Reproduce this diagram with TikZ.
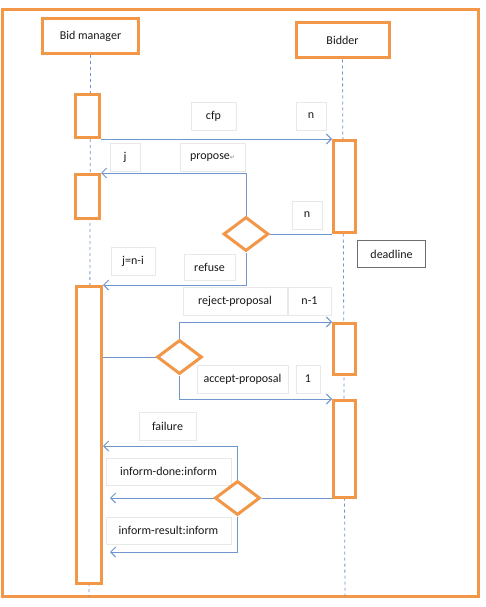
\documentclass[tikz,border=0pt]{standalone}
\usepackage{fontspec}
\setmainfont{Carlito}
\newfontfamily\dejavu{DejaVu Sans}
\usetikzlibrary{shapes.geometric,arrows.meta}
\definecolor{orng}{RGB}{242,150,72}
\definecolor{msgblue}{RGB}{112,150,205}
\definecolor{lblgray}{RGB}{232,232,232}
\definecolor{dlgray}{RGB}{110,110,110}
\tikzset{
  txt/.style={font=\fontsize{12}{14}\selectfont, text=black!90},
  obox/.style={draw=orng, line width=3pt, fill=white, inner sep=0pt, txt},
  actbox/.style={draw=orng, line width=3pt, fill=white, inner sep=0pt},
  dia/.style={diamond, draw=orng, line width=3pt, fill=white, inner sep=0pt, minimum width=45pt, minimum height=34pt, aspect=1.3},
  msg/.style={draw=msgblue, line width=1pt, -{Straight Barb[length=5pt,width=10pt,line width=1pt]}},
  plain/.style={draw=msgblue, line width=1pt},
  life/.style={draw=msgblue, line width=0.8pt, dash pattern=on 3pt off 3pt},
  lbl/.style={draw=lblgray, line width=0.6pt, fill=white, inner sep=0pt, txt},
}
\begin{document}
\begin{tikzpicture}[x=1pt,y=-1pt]
\useasboundingbox (0,0) rectangle (485,607);
\fill[white] (0,0) rectangle (485,607);
% frame
\draw[draw=orng, line width=3pt] (2,10) rectangle (478,596);
% headers
\node[obox, minimum width=96pt, minimum height=35pt] (mgr) at (90.5,36) {Bid manager};
\node[obox, minimum width=93pt, minimum height=35pt] (bdr) at (342.5,40.5) {Bidder};
% lifelines
\coordinate (mgrEnd) at (89,597);
\coordinate (bdrEnd) at (345,597);
\draw[life] (mgr.south) -- (mgrEnd);
\draw[life] (bdr.south) -- (bdrEnd);
% activations
\node[actbox, minimum width=24pt, minimum height=43pt] (ma1) at (87.5,116) {};
\node[actbox, minimum width=24pt, minimum height=44pt] (ma2) at (87.5,196.5) {};
\node[actbox, minimum width=25pt, minimum height=297pt] (ma3) at (89,435) {};
\node[actbox, minimum width=22pt, minimum height=92pt] (ba1) at (344.5,186.5) {};
\node[actbox, minimum width=22pt, minimum height=51pt] (ba2) at (344.5,349) {};
\node[actbox, minimum width=22pt, minimum height=97pt] (ba3) at (344.5,449) {};
% deadline
\node[draw=dlgray, line width=1.4pt, fill=white, minimum width=68pt, minimum height=27pt, inner sep=0pt, txt] (dl) at (391.5,254) {deadline};
% labels
\node[lbl, minimum width=45pt, minimum height=28pt] (lcfp) at (213.5,116) {cfp};
\node[lbl, minimum width=30pt, minimum height=28pt] (ln1) at (311,116) {n};
\node[lbl, minimum width=30pt, minimum height=28pt] (lj) at (125,157.5) {j};
\node[lbl, minimum width=65pt, minimum height=28pt] (lprop) at (212.5,157.5) {propose{\dejavu\fontsize{6}{7}\selectfont\color{gray}↵}};
\node[lbl, minimum width=30pt, minimum height=28pt] (ln2) at (307,215) {n};
\node[lbl, minimum width=44pt, minimum height=28pt] (ljni) at (133,261) {j=n-i};
\node[lbl, minimum width=51pt, minimum height=26pt] (lref) at (209.5,267) {refuse};
\node[lbl, minimum width=104pt, minimum height=28pt] (lrej) at (235,301) {reject-proposal};
\node[lbl, minimum width=43pt, minimum height=28pt] (lnm1) at (309.5,301) {n-1};
\node[lbl, minimum width=91pt, minimum height=28pt] (lacc) at (242.5,379) {accept-proposal};
\node[lbl, minimum width=24pt, minimum height=28pt] (lone) at (308,379) {1};
\node[lbl, minimum width=57pt, minimum height=28pt] (lfail) at (167.5,426) {failure};
\node[lbl, minimum width=125pt, minimum height=27pt] (ldone) at (168.5,471.5) {inform-done:inform};
\node[lbl, minimum width=125pt, minimum height=27pt] (lres) at (168.5,530.5) {inform-result:inform};
% diamonds
\node[dia] (d1) at (246,234) {};
\node[dia] (d2) at (179.5,357) {};
\node[dia] (d3) at (237.5,498) {};
% free ends
\coordinate (fy) at (0,446);
\coordinate (doneEnd) at (110,498);
\coordinate (resEnd) at (110,552);
% messages
\draw[msg] (ma1.south east) -- (ma1.south east -| ba1.west);
\draw[msg] (d1.north) |- (ma2.north east);
\draw[plain] (d1.east) -- (d1.east -| ba1.west);
\draw[msg] (d1.south) |- (ma3.north east);
\draw[plain] (d2.west) -- (d2.west -| ma3.east);
\draw[msg] (d2.north) |- (ba2.north west);
\draw[msg] (d2.south) |- (ba3.north west);
\draw[plain] (d3.east) -- (d3.east -| ba3.west);
\draw[msg] (d3.north) |- (ma3.east |- fy);
\draw[msg] (d3.west) -- (doneEnd);
\draw[msg] (d3.south) |- (resEnd);
\end{tikzpicture}
\end{document}
